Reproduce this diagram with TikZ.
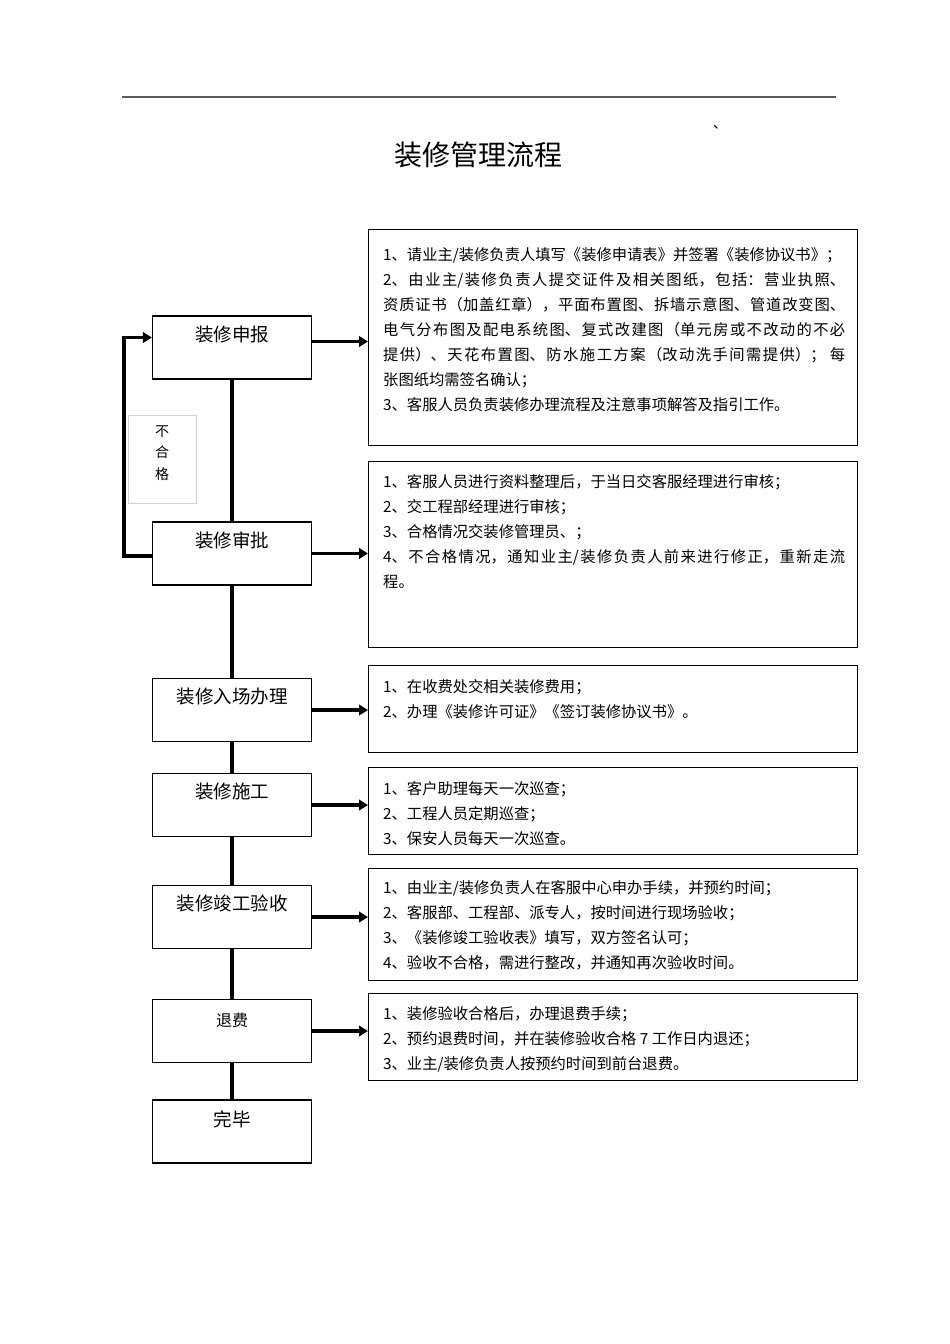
\documentclass[tikz,border=0pt]{standalone}
\usepackage{fontspec}
\setmainfont{Noto Sans CJK SC}
\usetikzlibrary{arrows.meta,calc}
\XeTeXlinebreaklocale "zh"
\XeTeXlinebreakskip=0pt plus 3pt
\setlength{\parindent}{0pt}
\definecolor{filet}{RGB}{90,90,90}
\tikzset{
    etape/.style={draw,line width=1.2pt,minimum width=159pt,minimum height=63pt,inner sep=0pt,
      text height=25pt,text depth=38pt,font=\fontsize{18.5}{20}\selectfont},
    detail/.style={draw,line width=1.2pt,minimum width=489pt,anchor=north west,inner sep=0pt},
    texte/.style={anchor=north west,inner sep=0pt,text width=462pt,align=justify,
      font=\fontsize{15.3}{25}\selectfont},
    lien/.style={line width=3.8pt},
    fleche/.style={line width=3.8pt,-{Triangle[length=9pt,width=10.5pt]}},
  }

\begin{document}
\begin{tikzpicture}[x=1pt,y=-1pt]
				  \useasboundingbox (0,0) rectangle (950,1344);
				  %en-tete
				  \coordinate (g) at (122,97);
				  \coordinate (d) at (836,97);
				  \draw[filet,line width=1.5pt] (g) -- (d);
				  \node (marque) at (720,127) {\fontsize{14}{14}\selectfont 、};
				  \node (titre) at (478,155) {\fontsize{28}{30}\selectfont 装修管理流程};
				  %etapes
				  \node[etape] (sb) at (232,347.5) {装修申报};
				  \node[etape] (sp) at (232,553.5) {装修审批};
				  \node[etape] (sr) at (232,710) {装修入场办理};
				  \node[etape] (ss) at (232,805) {装修施工};
				  \node[etape] (sv) at (232,917) {装修竣工验收};
				  \node[etape,text height=27pt,text depth=36pt,font=\fontsize{16}{18}\selectfont] (st) at (232,1031) {退费};
				  \node[etape,text height=26pt,text depth=37pt] (sf) at (232,1131.5) {完毕};
				  \node[draw=gray!35,line width=0.8pt,minimum width=68pt,minimum height=88pt,align=center,
				    font=\fontsize{14}{21.5}\selectfont] (nc) at (162,459) {不\\合\\格\\[-8pt]\mbox{}};
				  %cadres
				  \node[detail,minimum height=216pt] (d1) at (368,229) {};
				  \node[detail,minimum height=186pt] (d2) at (368,461) {};
				  \node[detail,minimum height=87pt] (d3) at (368,665) {};
				  \node[detail,minimum height=87pt] (d4) at (368,767) {};
				  \node[detail,minimum height=112pt] (d5) at (368,868) {};
				  \node[detail,minimum height=87pt] (d6) at (368,993) {};
				  \node[texte] (t1) at ([xshift=15pt,yshift=-18pt]d1.north west) {1、请业主/装修负责人填写《装修申请表》并签署《装修协议书》；\par 2、由业主/装修负责人提交证件及相关图纸，包括：营业执照、\linebreak 资质证书（加盖红章），平面布置图、拆墙示意图、管道改变图、\linebreak 电气分布图及配电系统图、复式改建图（单元房或不改动的不必\linebreak 提供）、天花布置图、防水施工方案（改动洗手间需提供）； 每\linebreak 张图纸均需签名确认；\par 3、客服人员负责装修办理流程及注意事项解答及指引工作。};
				  \node[texte] (t2) at ([xshift=15pt,yshift=-13pt]d2.north west) {1、客服人员进行资料整理后，于当日交客服经理进行审核；\par 2、交工程部经理进行审核；\par 3、合格情况交装修管理员、；\par 4、不合格情况，通知业主/装修负责人前来进行修正，重新走流\linebreak 程。};
				  \node[texte] (t3) at ([xshift=15pt,yshift=-14pt]d3.north west) {1、在收费处交相关装修费用；\par 2、办理《装修许可证》《签订装修协议书》。};
				  \node[texte] (t4) at ([xshift=15pt,yshift=-14pt]d4.north west) {1、客户助理每天一次巡查；\par 2、工程人员定期巡查；\par 3、保安人员每天一次巡查。};
				  \node[texte] (t5) at ([xshift=15pt,yshift=-12pt]d5.north west) {1、由业主/装修负责人在客服中心申办手续，并预约时间；\par 2、客服部、工程部、派专人，按时间进行现场验收；\par 3、《装修竣工验收表》填写，双方签名认可；\par 4、验收不合格，需进行整改，并通知再次验收时间。};
				  \node[texte] (t6) at ([xshift=15pt,yshift=-13pt]d6.north west) {1、装修验收合格后，办理退费手续；\par 2、预约退费时间，并在装修验收合格 7 工作日内退还；\par 3、业主/装修负责人按预约时间到前台退费。};
				  %liaisons
				  \draw[lien] (sb) -- (sp) -- (sr) -- (ss) -- (sv) -- (st) -- (sf);
				  \draw[fleche] ([yshift=-2.5pt]sp.west) -- ++(-28,0) |- ([yshift=10pt]sb.west);
				  \draw[fleche] ([yshift=6pt]sb.east) -- ([yshift=6pt]sb.east -| d1.west);
				  \draw[fleche] (sp.east) -- (sp.east -| d2.west);
				  \draw[fleche] (sr.east) -- (sr.east -| d3.west);
				  \draw[fleche] (ss.east) -- (ss.east -| d4.west);
				  \draw[fleche] (sv.east) -- (sv.east -| d5.west);
				  \draw[fleche] (st.east) -- (st.east -| d6.west);
				  \end{tikzpicture}
\end{document}
